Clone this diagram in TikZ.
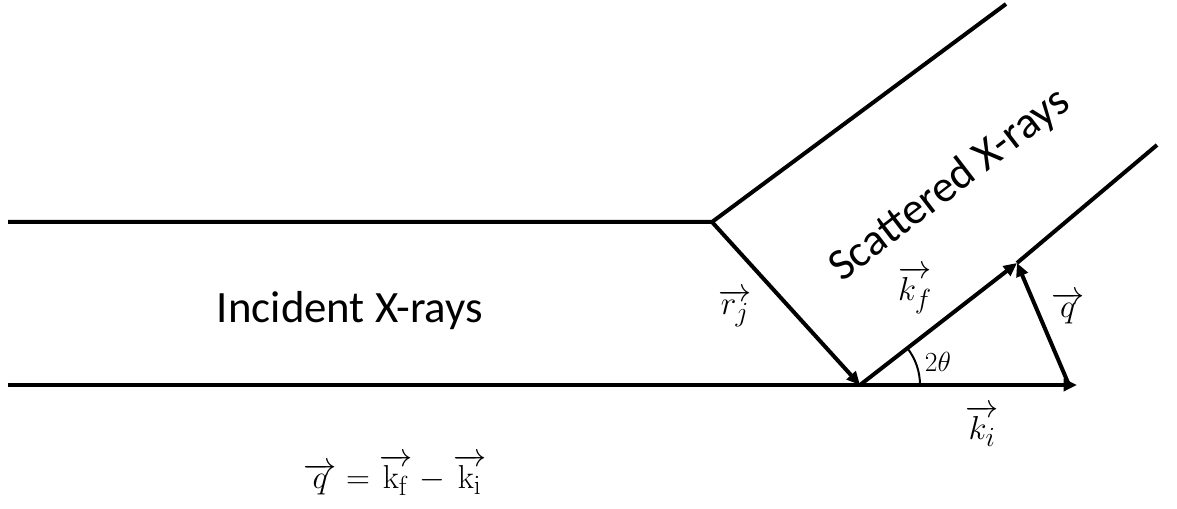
\documentclass[tikz,border=0pt]{standalone}
\usepackage[no-math]{fontspec}
\setmainfont{Carlito}
\usetikzlibrary{arrows.meta}

\begin{document}
\begin{tikzpicture}[
  x=0.75pt, y=-0.75pt,
  beam/.style={line width=3pt},
  vec/.style={-{Triangle[length=10pt, width=9pt]}, line width=3pt},
  txt/.style={font=\fontsize{33.6}{40}\selectfont},
  lbl/.style={font=\fontsize{30}{36}\selectfont},
  ang/.style={font=\fontsize{20}{24}\selectfont}
]
\useasboundingbox (0,0) rectangle (1177,509);
% beam corners
\coordinate (Ain)  at (8,222);
\coordinate (Bin)  at (8,385);
\coordinate (J)    at (712,222);
\coordinate (O)    at (860,385);
\coordinate (Kf)   at (1017,263);
\coordinate (Ki)   at (1077,385);
\coordinate (Qs)   at (1069,385);
\coordinate (Uend) at (1006,4);
\coordinate (Lend) at (1157,145);
% beam edges
\draw[beam] (Ain) -- (J) -- (Uend);
\draw[beam] (Bin) -- (O);
\draw[beam] (Kf) -- (Lend);
% vectors
\draw[vec] (J) -- (O);
\draw[vec] (O) -- (Kf);
\draw[vec] (O) -- (Ki);
\draw[vec] (Qs) -- (Kf);
% scattering angle
\draw[line width=1.5pt] (O) ++(60,0) arc[start angle=0, end angle=37.85, radius=45pt];
% beam names
\node[txt, anchor=base] (incid) at (350,323) {Incident X-rays};
\node[txt, rotate=37.5] (scat) at (950,185) {Scattered X-rays};
% vector labels
\node[lbl] (rj) at (735,308) {$\overrightarrow{r_j}$};
\node[lbl] (kf) at (915,290) {$\overrightarrow{k_f}$};
\node[lbl] (q)  at (1068,308) {$\overrightarrow{q}$};
\node[lbl] (ki) at (982,426) {$\overrightarrow{k_i}$};
\node[ang] (tth) at (938,362) {$2\theta$};
% relation
\node[lbl, anchor=base] (eq) at (395,488)
  {$\overrightarrow{q}=\overrightarrow{\mathrm{k}_{\mathrm{f}}}-\overrightarrow{\mathrm{k}_{\mathrm{i}}}$};
\end{tikzpicture}
\end{document}
